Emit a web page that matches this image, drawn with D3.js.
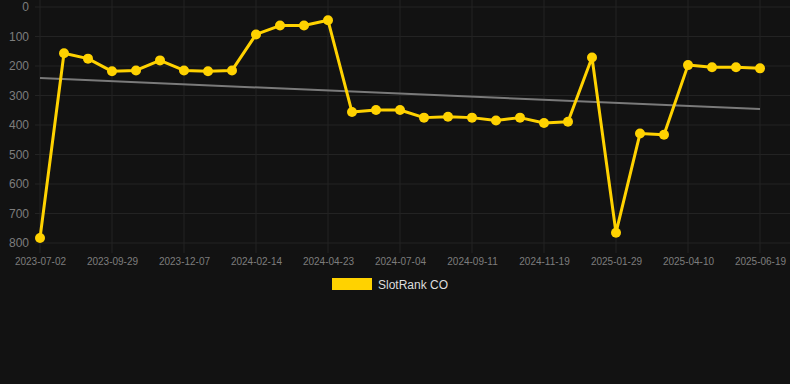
<!DOCTYPE html>
<html>
<head>
<meta charset="utf-8">
<script src="https://cdn.jsdelivr.net/npm/d3@7"></script>
<style>
  html, body { margin: 0; padding: 0; background: #121212; }
  svg { display: block; font-family: Arial, "Liberation Sans", sans-serif; }
</style>
</head>
<body>
<svg id="vis-svg" width="790" height="384"></svg>
<script>
var width  = 790;
var height = 384;
var margin = { top: 7, bottom: 141, left: 40, right: 30 };

// 31 snapshots, only every 3rd date is shown on the axis
const dates = [
  "2023-07-02","2023-08-01","2023-08-31","2023-09-29","2023-10-22","2023-11-14",
  "2023-12-07","2023-12-30","2024-01-22","2024-02-14","2024-03-08","2024-03-31",
  "2024-04-23","2024-05-16","2024-06-10","2024-07-04","2024-07-26","2024-08-19",
  "2024-09-11","2024-10-04","2024-10-27","2024-11-19","2024-12-12","2025-01-06",
  "2025-01-29","2025-02-23","2025-03-18","2025-04-10","2025-05-03","2025-05-27",
  "2025-06-19"
];
const rankCO = [
  783, 157, 175, 218, 215, 181, 215, 218, 215, 93, 63, 63, 45, 356, 349, 349,
  375, 372, 375, 385, 375, 393, 389, 171, 765, 429, 433, 197, 204, 204, 208
];
const trendEnds = [241, 346];
const yTicks = [0, 100, 200, 300, 400, 500, 600, 700, 800];
const seriesName = "SlotRank CO";

const graphHeight = height - margin.top - margin.bottom;
const svg = d3.select("#vis-svg");

const x = d3.scalePoint().domain(dates).range([margin.left, width - margin.right]);
const y = d3.scaleLinear().domain([0, 800]).range([margin.top, margin.top + 236]);

const shown = dates.filter((d, i) => i % 3 === 0);

// grid
const grid = svg.append("g");
grid.selectAll("line.h").data(yTicks).enter().append("line")
  .attr("x1", margin.left - 5).attr("x2", width)
  .attr("y1", d => y(d)).attr("y2", d => y(d))
  .attr("stroke", "#232323").attr("stroke-width", 1);
grid.selectAll("line.v").data(shown).enter().append("line")
  .attr("x1", d => x(d)).attr("x2", d => x(d))
  .attr("y1", 0).attr("y2", y(800) + 10)
  .attr("stroke", "#232323").attr("stroke-width", 1);

// axes
const yAxis = svg.append("g")
  .attr("transform", "translate(" + (margin.left - 11) + ",0)")
  .call(d3.axisLeft(y).tickValues(yTicks).tickSize(0).tickPadding(0));
yAxis.select(".domain").remove();
yAxis.selectAll("text").attr("fill", "#7d7d7d").attr("font-size", 12);

const xAxis = svg.append("g")
  .attr("transform", "translate(0," + (y(800) + 10) + ")")
  .call(d3.axisBottom(x).tickValues(shown).tickSize(0).tickPadding(5));
xAxis.select(".domain").remove();
xAxis.selectAll("text").attr("fill", "#7d7d7d").attr("font-size", 10);

// trend line
svg.append("line")
  .attr("x1", x(dates[0])).attr("x2", x(dates[dates.length - 1]))
  .attr("y1", y(trendEnds[0])).attr("y2", y(trendEnds[1]))
  .attr("stroke", "#7a7a7a").attr("stroke-width", 2);

// series
const line = d3.line().x((d, i) => x(dates[i])).y(d => y(d));
svg.append("path").datum(rankCO)
  .attr("d", line)
  .attr("fill", "none")
  .attr("stroke", "#ffd200")
  .attr("stroke-width", 3)
  .attr("stroke-linejoin", "round");
svg.selectAll("circle.pt").data(rankCO).enter().append("circle")
  .attr("cx", (d, i) => x(dates[i])).attr("cy", d => y(d))
  .attr("r", 5).attr("fill", "#ffd200");

// legend
const legend = svg.append("g").attr("transform", "translate(332,278)");
legend.append("rect").attr("width", 40).attr("height", 12).attr("fill", "#ffd200");
legend.append("text").attr("x", 46).attr("y", 10.5)
  .attr("fill", "#dddddd").attr("font-size", 12).text(seriesName);
</script>
</body>
</html>
